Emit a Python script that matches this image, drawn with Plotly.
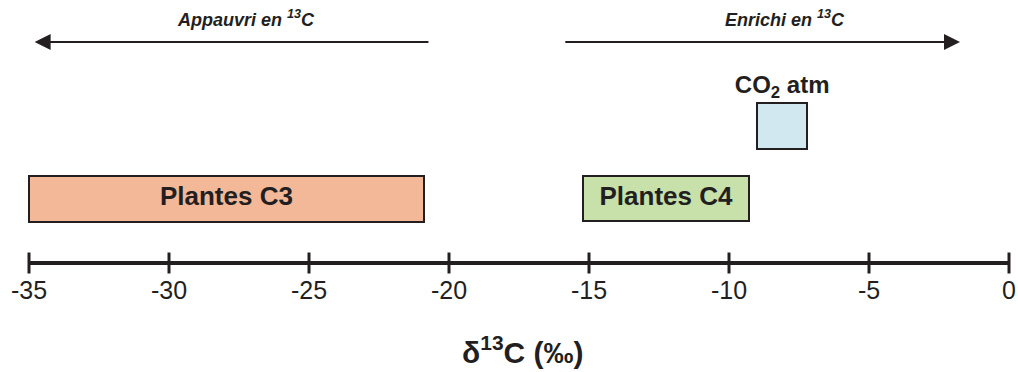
import plotly.graph_objects as go

# Isotopic ranges (δ13C, ‰)
groups = ["Plantes C3", "Plantes C4", "CO<sub>2</sub> atm"]
range_low = [-35.0, -15.2, -9.0]
range_high = [-20.9, -9.3, -7.2]

tick_values = [-35, -30, -25, -20, -15, -10, -5, 0]
tick_labels = ["-35", "-30", "-25", "-20", "-15", "-10", "-5", "0"]

# Layout (vertical positions in pixel-like units from the top)
W, H = 1018, 372
INK = "#231F20"
FONT = "Liberation Sans, Arial, Helvetica, sans-serif"
fills = ["#F2B897", "#C8E0AA", "#D2E8F0"]
row_y = [198.7, 198.5, 126.0]
row_h = [46, 45, 46]
AXIS_Y = 263
X0_PX, PX_PER_UNIT = 29, 28.0
x_range = [-35 - X0_PX / PX_PER_UNIT, 0 + (W - X0_PX - 35 * PX_PER_UNIT) / PX_PER_UNIT]

fig = go.Figure()

# Range boxes
for name, lo, hi, col, yc, h in zip(groups, range_low, range_high, fills, row_y, row_h):
    fig.add_trace(go.Bar(
        orientation="h", y=[yc], x=[hi - lo], base=[lo], width=h,
        marker=dict(color=col, line=dict(color=INK, width=2)),
        hoverinfo="skip", showlegend=False,
    ))

# Labels inside the plant boxes, label above the CO2 box
for name, lo, hi, yc, h in zip(groups, range_low, range_high, row_y, row_h):
    xc = (lo + hi) / 2
    if "Plantes" in name:
        fig.add_trace(go.Scatter(
            x=[xc], y=[yc], mode="text", text=[f"<b>{name}</b>"],
            textposition="middle center",
            textfont=dict(size=26, color=INK, family=FONT),
            hoverinfo="skip", showlegend=False,
        ))
    else:
        fig.add_trace(go.Scatter(
            x=[xc], y=[yc - h / 2 - 16], mode="text", text=[f"<b>{name}</b>"],
            textposition="middle center",
            textfont=dict(size=24, color=INK, family=FONT),
            hoverinfo="skip", showlegend=False,
        ))

# Axis line with tick marks
fig.add_trace(go.Scatter(
    x=[tick_values[0], tick_values[-1]], y=[AXIS_Y, AXIS_Y], mode="lines",
    line=dict(color=INK, width=4), hoverinfo="skip", showlegend=False,
))
fig.add_trace(go.Scatter(
    x=tick_values, y=[AXIS_Y] * len(tick_values), mode="markers",
    marker=dict(symbol="line-ns", size=15, line=dict(color=INK, width=3)),
    hoverinfo="skip", showlegend=False,
))
fig.add_trace(go.Scatter(
    x=tick_values, y=[AXIS_Y + 30] * len(tick_values), mode="text",
    text=tick_labels, textposition="middle center",
    textfont=dict(size=25, color=INK, family=FONT),
    hoverinfo="skip", showlegend=False,
))

# Direction arrows with captions
arrows = [
    dict(tail=-20.68, head=-34.8, caption="<b><i>Appauvri en <sup>13</sup>C</i></b>", cx=-27.25),
    dict(tail=-15.9, head=-1.75, caption="<b><i>Enrichi en <sup>13</sup>C</i></b>", cx=-8.0),
]
for a in arrows:
    fig.add_annotation(
        x=a["head"], y=42, ax=a["tail"], ay=42, xref="x", yref="y", axref="x", ayref="y",
        showarrow=True, arrowhead=2, arrowsize=1.6, arrowwidth=2, arrowcolor=INK, text="",
    )
    fig.add_annotation(
        x=a["cx"], y=18, xref="x", yref="y", text=a["caption"], showarrow=False,
        font=dict(size=18, color=INK, family=FONT),
    )

# Axis title
fig.add_annotation(
    x=523 / W, y=350, xref="paper", yref="y", showarrow=False,
    text="<b>δ<sup>13</sup>C (‰)</b>",
    font=dict(size=30, color=INK, family=FONT),
)

fig.update_layout(
    width=W, height=H, margin=dict(l=0, r=0, t=0, b=0),
    paper_bgcolor="white", plot_bgcolor="white",
    xaxis=dict(range=x_range, visible=False, fixedrange=True),
    yaxis=dict(range=[H, 0], visible=False, fixedrange=True),
    bargap=0,
)

fig.write_html("out.html")
